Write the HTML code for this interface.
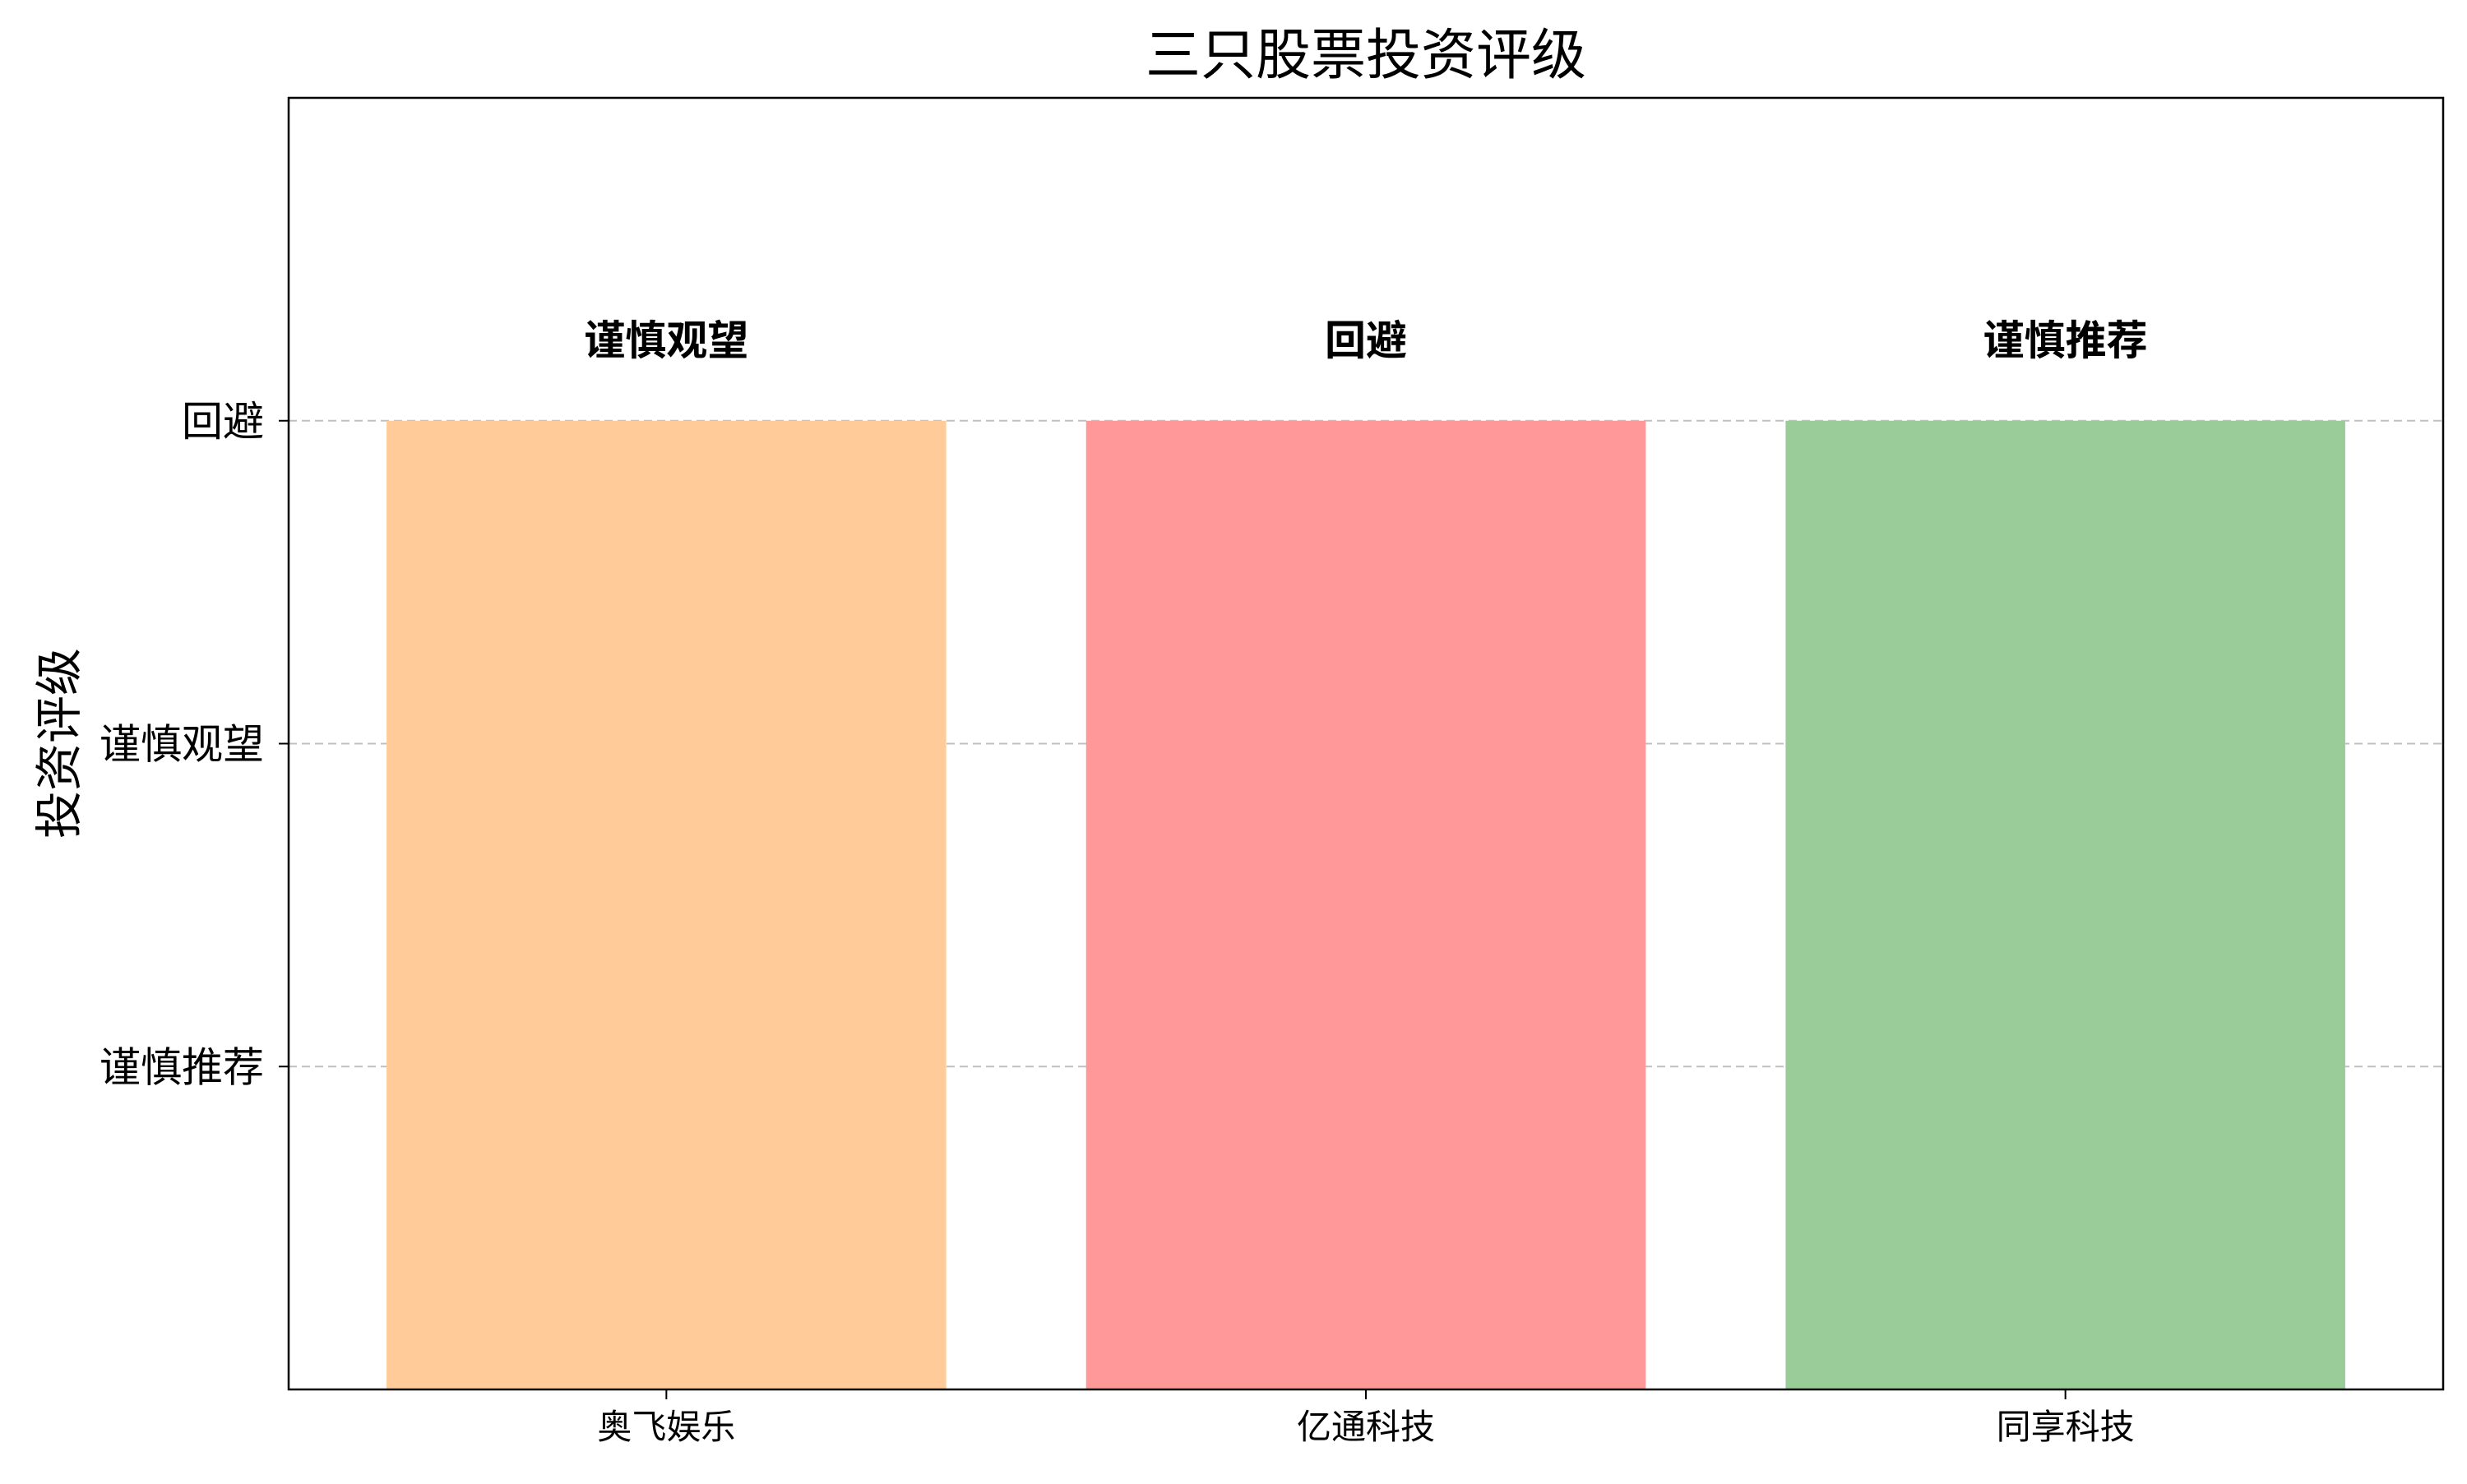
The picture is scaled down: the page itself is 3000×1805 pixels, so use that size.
<!DOCTYPE html>
<html><head><meta charset="utf-8"><style>
body{margin:0;background:#fff}
svg text{font-family:"Liberation Sans","Noto Sans CJK SC",sans-serif}
</style></head><body>
<svg id="chart" width="3000" height="1800" xmlns="http://www.w3.org/2000/svg">
<rect width="3000" height="1800" fill="#fff"/>
<text x="1661" y="90" font-size="67" text-anchor="middle">三只股票投资评级</text>
<text transform="translate(92,904) rotate(-90)" font-size="58" text-anchor="middle">投资评级</text>
<g id="grid"></g><g id="bars"></g><g id="labels"></g><g id="axes"></g>
<rect x="351" y="119" width="2620" height="1571" fill="none" stroke="#000" stroke-width="2.5"/>
</svg>
<script>
const categories=["奥飞娱乐","亿通科技","同享科技"];
const values=[3,3,3];
const ratingLabels=["谨慎观望","回避","谨慎推荐"];
const yTickValues=[1,2,3];
const yTickLabels=["谨慎推荐","谨慎观望","回避"];
const colors=["#ffcc99","#ff9999","#99cc99"];
const L=351,R=2971,T=119,B=1690;
const xmin=-0.54,xmax=2.54,ymin=0,ymax=4;
const xs=v=>L+(v-xmin)/(xmax-xmin)*(R-L);
const ys=v=>B-(v-ymin)/(ymax-ymin)*(B-T);
const NS="http://www.w3.org/2000/svg";
function mk(tag,attrs,parent,txt){const e=document.createElementNS(NS,tag);for(const k in attrs)e.setAttribute(k,attrs[k]);if(txt!=null)e.textContent=txt;document.getElementById(parent).appendChild(e);return e;}
yTickValues.forEach((v,i)=>{
 const g=mk('line',{x1:L,x2:R,y1:ys(v),y2:ys(v),stroke:'#c0c0c0','stroke-width':2,'stroke-dasharray':'10,6'},'grid');
 
 
 const t=mk('line',{x1:L-12,x2:L,y1:ys(v),y2:ys(v),stroke:'#000','stroke-width':2},'axes');
 
 
 const lb=mk('text',{x:L-30,y:ys(v)+18,'font-size':50,'text-anchor':'end'},'axes',yTickLabels[i]);
 
 
});
const bw=0.8;
categories.forEach((c,i)=>{
 const b=mk('rect',{x:xs(i-bw/2),y:ys(values[i]),width:xs(i+bw/2)-xs(i-bw/2),height:ys(0)-ys(values[i]),fill:colors[i]},'bars');
 
 
 const l=mk('text',{x:xs(i),y:ys(values[i]+0.25)+18,'font-size':50,'font-weight':'bold','text-anchor':'middle'},'labels',ratingLabels[i]);
 
 
 const t=mk('line',{x1:xs(i),x2:xs(i),y1:B,y2:B+12,stroke:'#000','stroke-width':2},'axes');
 
 
 const xl=mk('text',{x:xs(i),y:B+60,'font-size':42,'text-anchor':'middle'},'axes',c);
 
 
});
</script>
</body></html>
